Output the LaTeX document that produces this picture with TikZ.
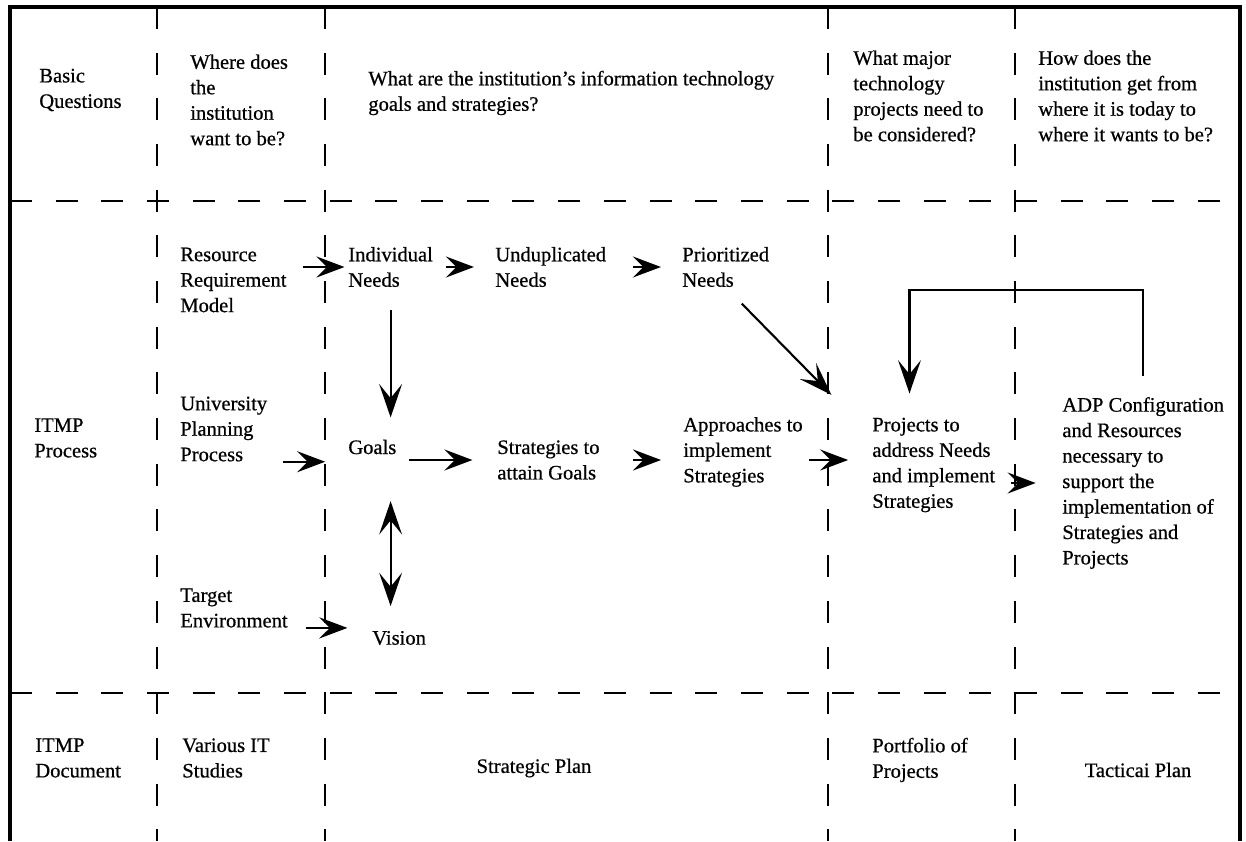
\documentclass[tikz,border=0pt]{standalone}
\usepackage{fontspec}
\setmainfont{Liberation Serif}[BoldFont=Liberation Serif,BoldFeatures={FakeBold=0.6}]
\usetikzlibrary{arrows.meta}

\begin{document}
\begin{tikzpicture}[x=0.02cm,y=-0.02cm,
    txt/.style={anchor=west,align=left,inner sep=0pt,font=\fontsize{11.7}{14.5}\selectfont\bfseries},
    grid/.style={line width=1.4pt,dash pattern=on 12.5pt off 13.5pt},
    frame/.style={line width=1.8pt},
    arr/.style={line width=1.2pt,-{Stealth[length=16pt,width=12pt,inset=6pt]}},
    varr/.style={line width=1.2pt,-{Stealth[length=19pt,width=13pt,inset=8pt]}},
    dbl/.style={line width=1.2pt,{Stealth[length=19pt,width=13pt,inset=8pt]}-{Stealth[length=19pt,width=13pt,inset=8pt]}}]
\useasboundingbox (0,0) rectangle (1246,841);
% frame and grid
\draw[frame] (10,841) -- (10,7) -- (1240,7) -- (1240,841);
\foreach \x in {157,325,828,1015}
  \draw[grid] (\x,7) -- (\x,841);
\foreach \y in {201,693}
  \draw[grid] (10,\y) -- (1240,\y);
% basic questions
\node[txt] (bq) at (39,90) {Basic\\Questions};
\node[txt] (where) at (190,100) {Where does\\the\\institution\\want to be?};
\node[txt] (goalsq) at (368,93) {What are the institution's information technology\\goals and strategies?};
\node[txt] (major) at (853,96) {What major\\technology\\projects need to\\be considered?};
\node[txt] (how) at (1038,96) {How does the\\institution get from\\where it is today to\\where it wants to be?};
% process
\node[txt] (itmp) at (34,438) {ITMP\\Process};
\node[txt] (res) at (180,280) {Resource\\Requirement\\Model};
\node[txt] (ind) at (348,267) {Individual\\Needs};
\node[txt] (undup) at (495,267) {Unduplicated\\Needs};
\node[txt] (prior) at (682,267) {Prioritized\\Needs};
\node[txt] (univ) at (180,429) {University\\Planning\\Process};
\node[txt] (goals) at (348,447) {Goals};
\node[txt] (strat) at (497,460) {Strategies to\\attain Goals};
\node[txt] (appr) at (683,452) {Approaches to\\implement\\Strategies};
\node[txt] (proj) at (872,465) {Projects to\\address Needs\\and implement\\Strategies};
\node[txt] (adp) at (1062,483) {ADP Configuration\\and Resources\\necessary to\\support the\\implementation of\\Strategies and\\Projects};
\node[txt] (target) at (180,608) {Target\\Environment};
\node[txt] (vision) at (372,638) {Vision};
% documents
\node[txt] (itmpd) at (35,758) {ITMP\\Document};
\node[txt] (studies) at (182,758) {Various IT\\Studies};
\node[txt,anchor=center] (splan) at (534,768) {Strategic Plan};
\node[txt] (port) at (872,760) {Portfolio of\\Projects};
\node[txt,anchor=center] (tplan) at (1138,770) {Tacticai Plan};
% arrows
\draw[arr,shorten <=9pt,shorten >=2pt] (res.east |- ind.west) -- (ind.west);
\draw[arr,shorten <=7pt,shorten >=12pt] (ind.east) -- (undup.west);
\draw[arr,shorten <=15pt,shorten >=12pt] (undup.east) -- (prior.west);
\draw[varr,shorten <=13pt,shorten >=12.5pt] (ind.south) -- (ind.south |- goals.north);
\draw[dbl,shorten <=26.5pt,shorten >=14pt] (ind.south |- goals.south) -- (ind.south |- vision.north);
\draw[arr,shorten <=9pt,shorten >=13pt] (univ.south east) -- (univ.south east -| goals.west);
\draw[arr,shorten <=10pt,shorten >=14pt] (target.south east) -- (target.south east -| vision.west);
\draw[arr,shorten <=7pt,shorten >=14pt] (goals.east |- strat.west) -- (strat.west);
\draw[arr,shorten <=19pt,shorten >=12.5pt] (strat.east) -- (strat.east -| appr.west);
\draw[arr,shorten <=3.5pt,shorten >=13.6pt] (strat.east -| appr.east) -- (strat.east -| proj.west);
\draw[varr,shorten <=13pt,shorten >=33pt] (prior.south) -- (proj.155);
\draw[arr,shorten <=9pt,shorten >=15pt] (proj.east |- adp.west) -- (adp.west);
\draw[varr,shorten <=12pt,shorten >=13.6pt] (adp.north) -- ++(0,-107) -| (proj.117);
\end{tikzpicture}
\end{document}
